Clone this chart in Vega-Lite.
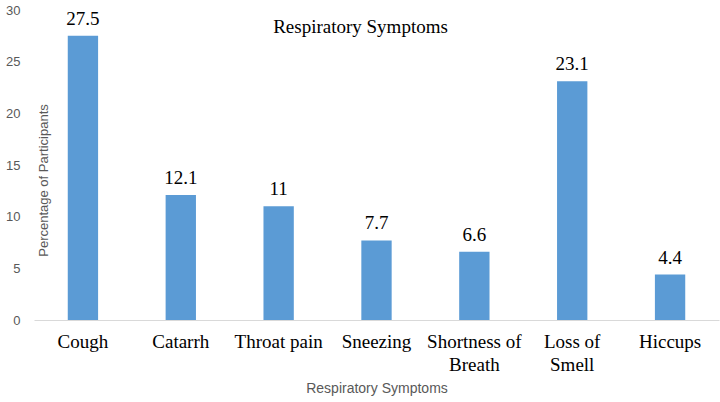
{
  "$schema": "https://vega.github.io/schema/vega-lite/v6.json",
  "width": 685,
  "height": 310,
  "autosize": {"type": "none"},
  "padding": {"left": 34, "top": 10, "right": 1, "bottom": 82},
  "background": "white",
  "title": {
    "text": "Respiratory Symptoms",
    "font": "Liberation Serif",
    "fontSize": 19,
    "fontWeight": "normal",
    "color": "#000000",
    "anchor": "middle",
    "baseline": "top",
    "offset": -33,
    "dx": -16
  },
  "data": {
    "values": [
      {"symptom": "Cough", "pct": 27.5},
      {"symptom": "Catarrh", "pct": 12.1},
      {"symptom": "Throat pain", "pct": 11},
      {"symptom": "Sneezing", "pct": 7.7},
      {"symptom": "Shortness of Breath", "pct": 6.6},
      {"symptom": "Loss of Smell", "pct": 23.1},
      {"symptom": "Hiccups", "pct": 4.4}
    ]
  },
  "encoding": {
    "x": {
      "field": "symptom",
      "type": "nominal",
      "sort": null,
      "scale": {"paddingInner": 0.69, "paddingOuter": 0.345},
      "axis": {
        "title": "Respiratory Symptoms",
        "titleFont": "Liberation Sans",
        "titleFontSize": 14,
        "titleFontWeight": "normal",
        "titleColor": "#595959",
        "titlePadding": 7,
        "labelAngle": 0,
        "labelFont": "Liberation Serif",
        "labelFontSize": 19,
        "labelColor": "#000000",
        "labelPadding": 12,
        "labelLineHeight": 23,
        "labelExpr": "datum.value == 'Shortness of Breath' ? ['Shortness of', 'Breath'] : datum.value == 'Loss of Smell' ? ['Loss of', 'Smell'] : datum.value",
        "ticks": false,
        "domainColor": "#d9d9d9",
        "domainWidth": 1.2
      }
    },
    "y": {
      "field": "pct",
      "type": "quantitative",
      "scale": {"domain": [0, 30]},
      "axis": {
        "values": [0, 5, 10, 15, 20, 25, 30],
        "grid": false,
        "domain": false,
        "ticks": false,
        "labelFont": "Liberation Sans",
        "labelFontSize": 13,
        "labelColor": "#595959",
        "labelPadding": 14,
        "title": "Percentage of Participants",
        "titleFont": "Liberation Sans",
        "titleFontSize": 13,
        "titleFontWeight": "normal",
        "titleColor": "#595959",
        "titleX": 16,
        "titleY": 170,
        "titleAngle": -90,
        "titleAlign": "center",
        "titleBaseline": "bottom"
      }
    }
  },
  "layer": [
    {"mark": {"type": "bar", "color": "#5b9bd5"}},
    {
      "mark": {
        "type": "text",
        "font": "Liberation Serif",
        "fontSize": 19,
        "color": "#000000",
        "baseline": "bottom",
        "dy": -7
      },
      "encoding": {"text": {"field": "pct", "type": "quantitative"}}
    }
  ],
  "config": {"view": {"stroke": null}}
}
